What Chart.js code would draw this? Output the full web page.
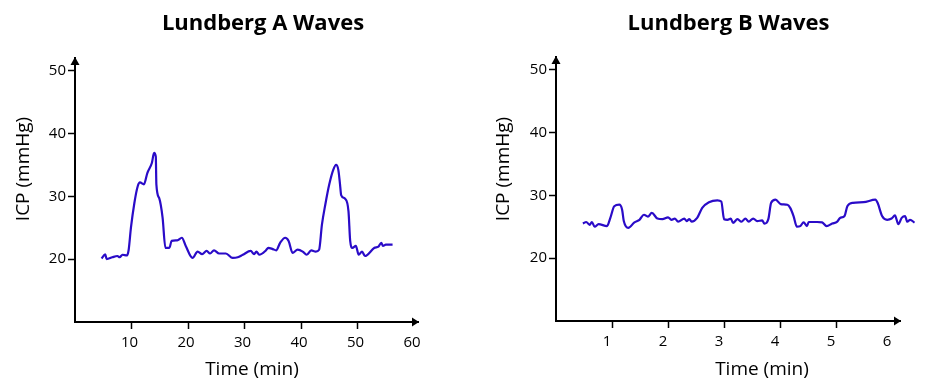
<!DOCTYPE html>
<html>
<head>
<meta charset="utf-8">
<script src="https://cdn.jsdelivr.net/npm/chart.js@4"></script>
<style>
  body { margin: 0; background: #fff; }
  #wrap { display: flex; width: 932px; height: 387px; }
  canvas { display: block; }
</style>
</head>
<body>
<div id="wrap">
  <canvas id="chartA" width="466" height="387"></canvas>
  <canvas id="chartB" width="466" height="387"></canvas>
</div>
<script>
// A waves (time in min, ICP in mmHg)
const timeA = [4.7, 5.35, 5.6, 6.6, 7.5, 7.9, 8.4, 9.2, 9.5, 9.9, 10.5, 11.1, 11.5, 12.2, 12.8, 13.6, 14.0, 14.3, 14.4, 14.9,
  15.5, 16.0, 16.7, 17.1, 18.1, 18.9, 19.6, 20.8, 21.7, 22.5, 23.3, 23.9, 24.6, 25.5, 26.7, 27.9, 28.8, 29.7, 31.1, 31.7,
  32.1, 32.6, 33.8, 34.2, 35.0, 35.6, 36.3, 37.2, 37.8, 38.5, 39.4, 40.3, 41.0, 41.8, 42.6, 43.2, 43.7, 44.3, 45.0, 45.7,
  46.2, 46.6, 46.9, 47.1, 47.8, 48.4, 48.7, 49.1, 49.7, 50.2, 50.8, 51.3, 53.0, 53.7, 54.2, 54.5, 55.0, 56.2];
const icpA = [20.1, 20.75, 20.0, 20.3, 20.5, 20.3, 20.7, 20.6, 21.5, 25.0, 28.9, 31.6, 32.2, 31.9, 33.7, 35.3, 36.9, 36.3, 31.9, 29.7,
  26.6, 21.8, 21.8, 22.9, 23.0, 23.4, 22.1, 20.2, 21.2, 20.8, 21.3, 20.9, 21.4, 20.9, 20.9, 20.2, 20.3, 20.7, 21.3, 20.8,
  21.2, 20.7, 21.4, 21.8, 21.6, 21.4, 22.6, 23.4, 22.9, 21.0, 21.5, 21.2, 20.7, 21.4, 21.2, 21.5, 25.5, 28.7, 31.9, 34.2,
  35.0, 34.2, 31.9, 30.2, 29.6, 27.6, 22.9, 21.8, 22.1, 20.7, 21.2, 20.5, 21.8, 22.0, 22.6, 22.1, 22.3, 22.3];

// B waves
const timeB = [0.48, 0.54, 0.60, 0.64, 0.69, 0.76, 0.91, 0.97, 1.04, 1.13, 1.18, 1.21, 1.29, 1.40, 1.49, 1.57, 1.64, 1.71, 1.81, 1.90,
  2.00, 2.06, 2.12, 2.18, 2.29, 2.33, 2.38, 2.42, 2.52, 2.61, 2.73, 2.88, 2.95, 3.00, 3.06, 3.12, 3.16, 3.24, 3.31, 3.38,
  3.44, 3.52, 3.59, 3.68, 3.72, 3.79, 3.84, 3.92, 4.01, 4.13, 4.18, 4.24, 4.30, 4.36, 4.42, 4.48, 4.51, 4.66, 4.75, 4.83,
  4.93, 5.02, 5.07, 5.15, 5.20, 5.30, 5.49, 5.70, 5.74, 5.82, 5.91, 5.99, 6.05, 6.11, 6.17, 6.23, 6.27, 6.32, 6.40];
const icpB = [25.5, 25.75, 25.3, 25.75, 25.0, 25.4, 25.1, 26.4, 28.25, 28.5, 27.7, 25.9, 24.8, 25.7, 26.1, 26.9, 26.6, 27.2, 26.3, 26.2,
  26.5, 26.1, 26.3, 25.8, 26.3, 25.9, 26.2, 25.8, 26.4, 28.0, 28.9, 29.2, 29.0, 26.2, 26.1, 26.3, 25.6, 26.2, 25.8, 26.3,
  25.8, 26.3, 25.9, 26.0, 25.5, 26.2, 28.8, 29.3, 28.6, 28.5, 28.0, 26.7, 25.0, 25.1, 25.7, 25.1, 25.75, 25.75, 25.7, 25.1,
  25.5, 25.8, 26.4, 26.7, 28.25, 28.8, 28.9, 29.3, 28.8, 26.7, 26.1, 26.3, 26.8, 25.4, 26.4, 26.7, 25.8, 26.1, 25.65];

const xTicksA = [10, 20, 30, 40, 50, 60];
const xTicksB = [1, 2, 3, 4, 5, 6];
const yTicks = [20, 30, 40, 50];

const titleA = 'Lundberg A Waves';
const titleB = 'Lundberg B Waves';
const yLabel = 'ICP (mmHg)';
const xLabel = 'Time (min)';

const lineColor = '#2a0bc8';
const fontFamily = '"Open Sans", "DejaVu Sans", sans-serif';
Chart.defaults.font.family = fontFamily;
Chart.defaults.color = '#000';

// 矢印とタイトル類を描く
const axisDecor = {
  id: 'axisDecor',
  afterDraw(chart, args, opts) {
    const ctx = chart.ctx;
    const a = chart.chartArea;
    ctx.save();
    ctx.fillStyle = '#000';
    // y axis arrow
    ctx.beginPath();
    ctx.moveTo(a.left, a.top - 1);
    ctx.lineTo(a.left - 4.5, a.top + 7);
    ctx.lineTo(a.left + 4.5, a.top + 7);
    ctx.closePath();
    ctx.fill();
    // x axis arrow
    ctx.beginPath();
    ctx.moveTo(a.right + 1, a.bottom);
    ctx.lineTo(a.right - 6, a.bottom - 4.5);
    ctx.lineTo(a.right - 6, a.bottom + 4.5);
    ctx.closePath();
    ctx.fill();

    ctx.textAlign = 'center';
    ctx.textBaseline = 'alphabetic';
    ctx.font = 'bold 22px ' + fontFamily;
    ctx.fillText(opts.title, opts.titleX, 30);
    ctx.font = '19px ' + fontFamily;
    ctx.fillText(xLabel, opts.xLabelX, 375);
    ctx.translate(opts.yLabelX, 169);
    ctx.rotate(-Math.PI / 2);
    ctx.textBaseline = 'middle';
    ctx.fillText(yLabel, 0, 0);
    ctx.restore();
  }
};

function makeChart(id, times, values, xMax, xTicks, decor) {
  const lastTick = xTicks[xTicks.length - 1];
  return new Chart(document.getElementById(id), {
    type: 'line',
    data: {
      datasets: [{
        data: times.map((t, i) => ({ x: t, y: values[i] })),
        borderColor: lineColor,
        borderWidth: 2.2,
        pointRadius: 0,
        cubicInterpolationMode: 'monotone',
        clip: false
      }]
    },
    options: {
      responsive: false,
      animation: false,
      events: [],
      layout: { padding: decor.padding },
      plugins: {
        legend: { display: false },
        tooltip: { enabled: false },
        axisDecor: decor
      },
      scales: {
        x: {
          type: 'linear',
          bounds: 'data',
          grid: {
            drawOnChartArea: false,
            tickLength: 7,
            tickWidth: 1.5,
            tickColor: c => (c.tick && c.tick.value === lastTick) ? 'rgba(0,0,0,0)' : '#000'
          },
          border: { color: '#000', width: 2 },
          ticks: {
            autoSkip: false,
            maxRotation: 0,
            padding: 5,
            labelOffset: decor.labelOffset,
            font: { size: 15 }
          },
          afterBuildTicks: s => {
            s.ticks = xTicks.map(v => ({ value: v }));
            s.min = 0;
            s.max = xMax;
          },
          afterFit: s => { s.height = decor.xHeight; }
        },
        y: {
          min: 10,
          max: 52,
          grid: { drawOnChartArea: false, tickLength: 7, tickWidth: 1.5, tickColor: '#000' },
          border: { color: '#000', width: 2 },
          ticks: { padding: 2, font: { size: 15 } },
          afterBuildTicks: s => { s.ticks = yTicks.map(v => ({ value: v })); },
          afterFit: s => { s.width = decor.yWidth; }
        }
      }
    },
    plugins: [axisDecor]
  });
}

makeChart('chartA', timeA, icpA, 60.7, xTicksA, {
  padding: { left: 0, top: 58, right: 48, bottom: 0 },
  yWidth: 75, xHeight: 65, labelOffset: -2,
  title: titleA, titleX: 263, xLabelX: 252, yLabelX: 24
});
makeChart('chartB', timeB, icpB, 6.14, xTicksB, {
  padding: { left: 0, top: 57, right: 32, bottom: 0 },
  yWidth: 90, xHeight: 66, labelOffset: -5,
  title: titleB, titleX: 262.5, xLabelX: 296, yLabelX: 38
});
</script>
</body>
</html>
